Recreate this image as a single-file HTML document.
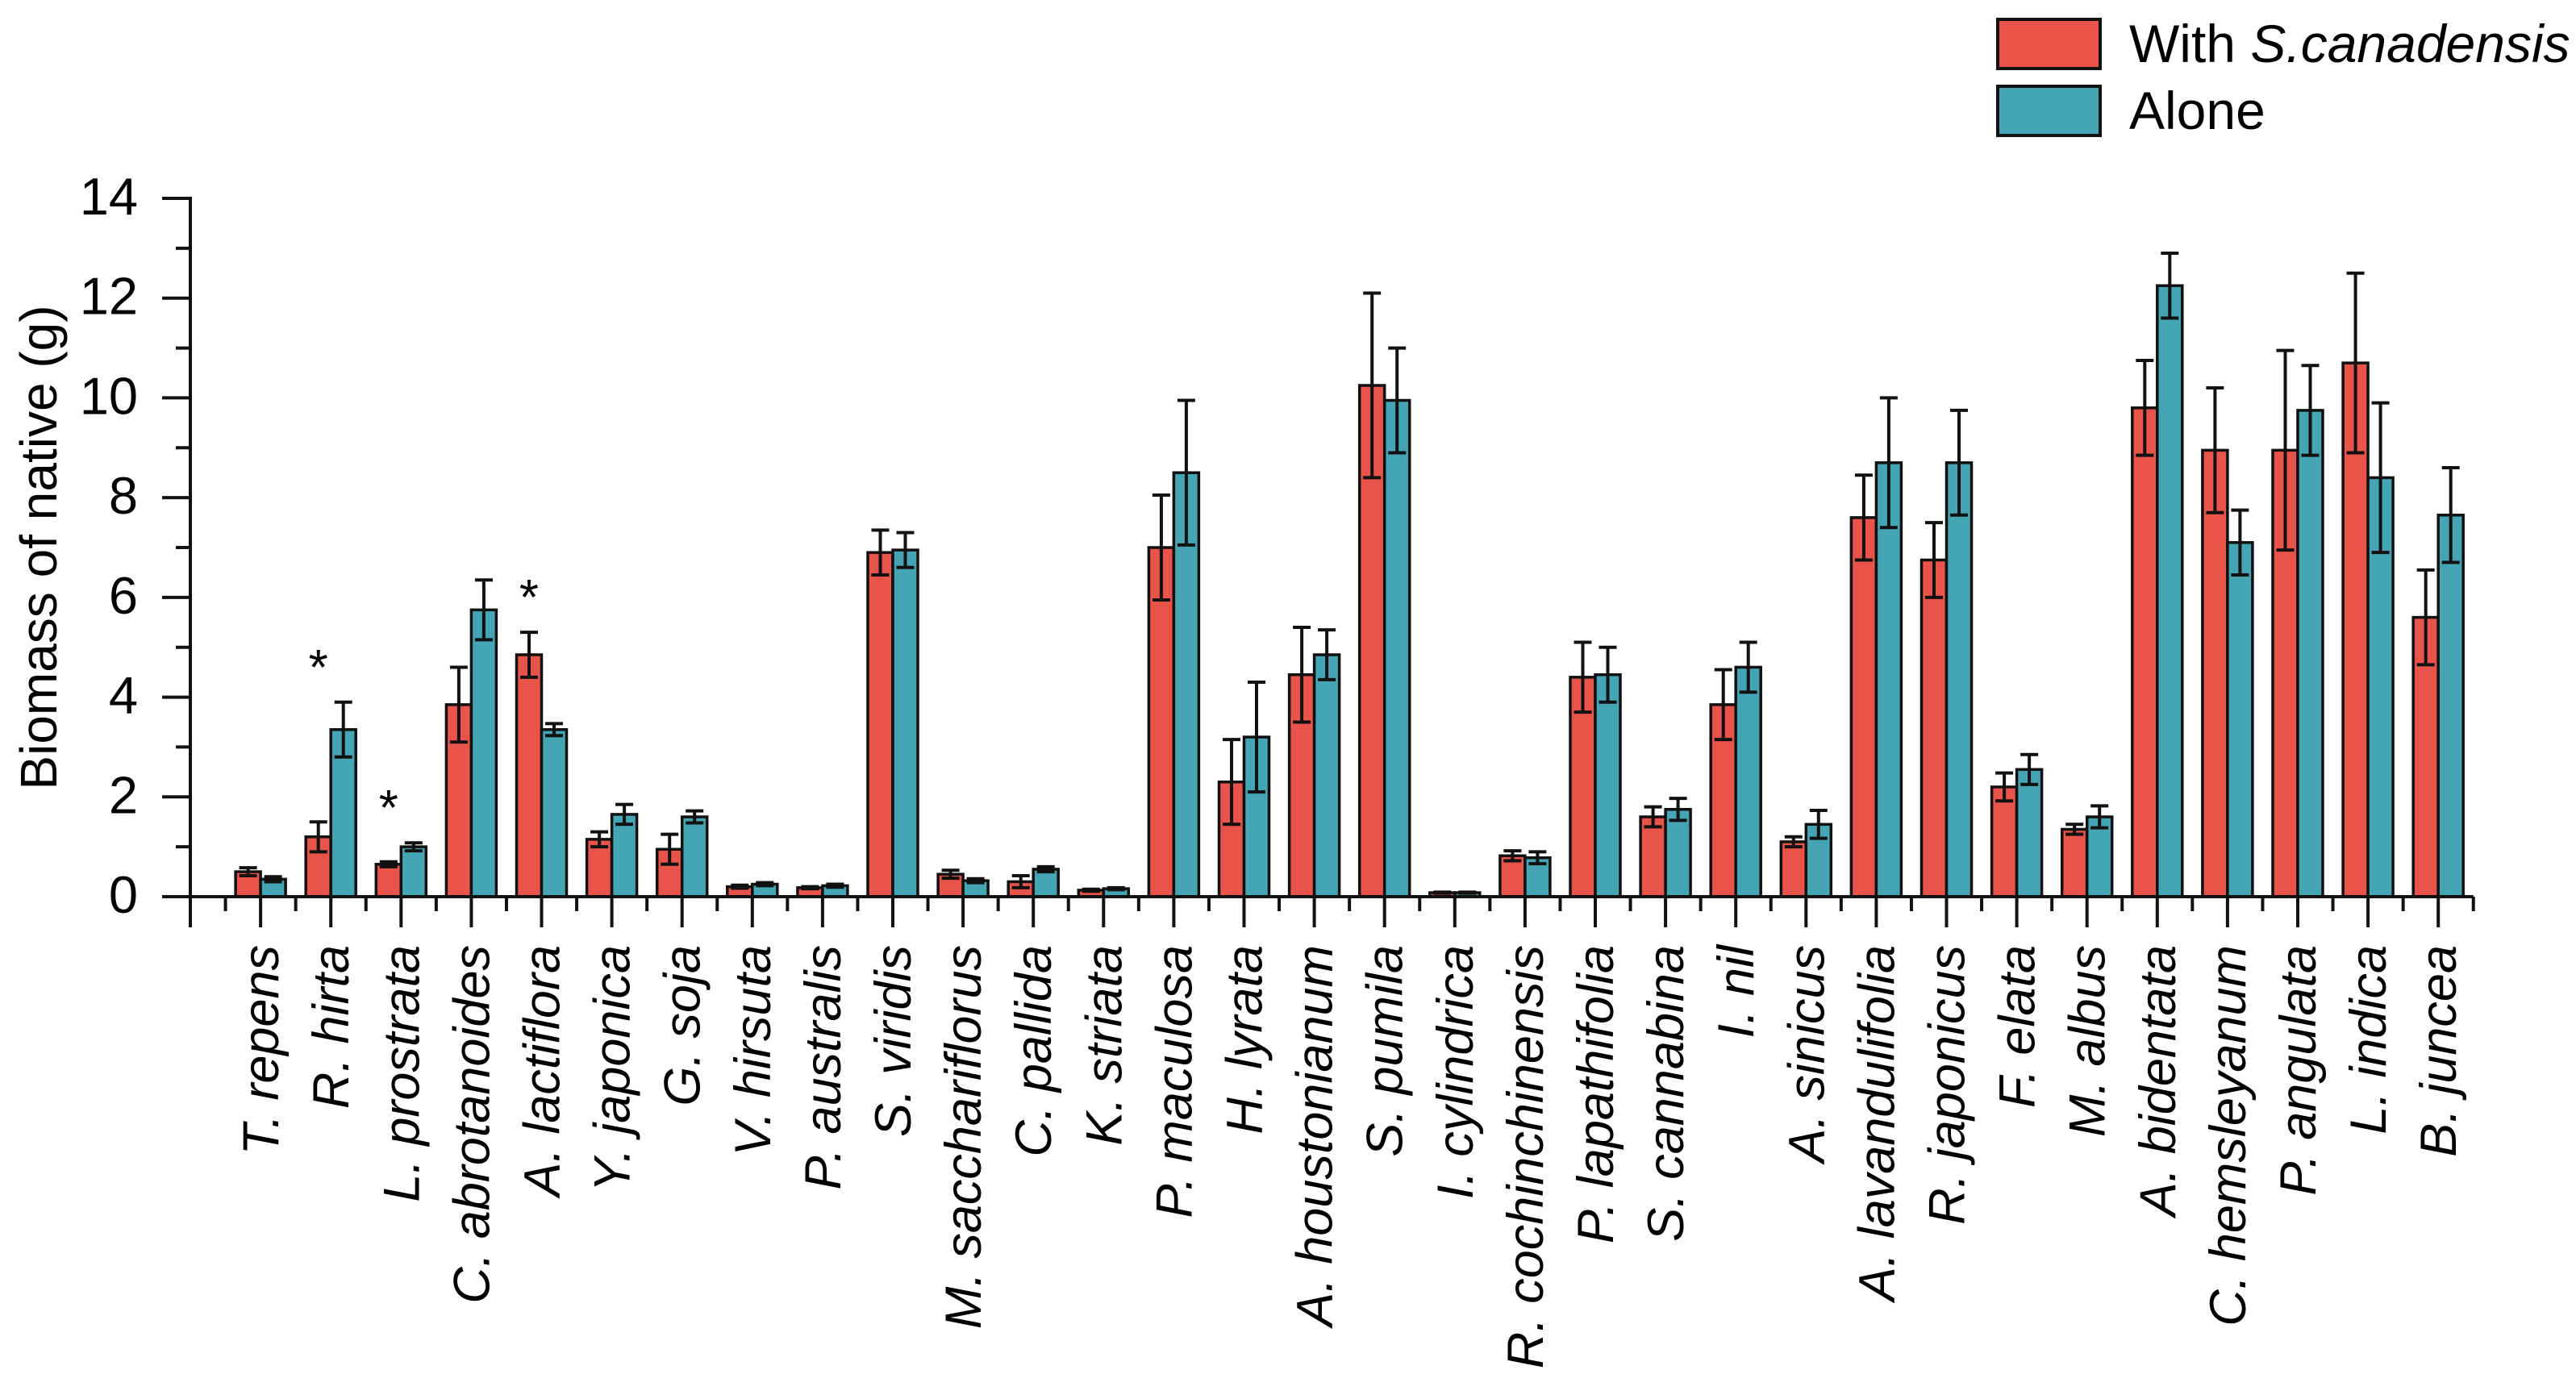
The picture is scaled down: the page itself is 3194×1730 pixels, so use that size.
<!DOCTYPE html>
<html><head><meta charset="utf-8"><style>
html,body{margin:0;padding:0;background:#fff;}
svg{display:block;font-family:"Liberation Sans",Arial,sans-serif;}
</style></head><body>
<svg id="chart" width="3194" height="1730" viewBox="0 0 3194 1730" xmlns="http://www.w3.org/2000/svg">
<g id="legend">
  <rect x="2477" y="24" width="127" height="61" fill="#E8534A" stroke="#111" stroke-width="4"/>
  <text x="2640" y="77" font-size="66">With <tspan font-style="italic">S.canadensis</tspan></text>
  <rect x="2477" y="107" width="127" height="61" fill="#45A5B5" stroke="#111" stroke-width="4"/>
  <text x="2640" y="160" font-size="66">Alone</text>
</g>
<g id="plot"></g>
</svg>
<script>
const categories = ["T. repens","R. hirta","L. prostrata","C. abrotanoides","A. lactiflora","Y. japonica","G. soja","V. hirsuta","P. australis","S. viridis","M. sacchariflorus","C. pallida","K. striata","P. maculosa","H. lyrata","A. houstonianum","S. pumila","I. cylindrica","R. cochinchinensis","P. lapathifolia","S. cannabina","I. nil","A. sinicus","A. lavandulifolia","R. japonicus","F. elata","M. albus","A. bidentata","C. hemsleyanum","P. angulata","L. indica","B. juncea"];
const withValues = [0.5,1.2,0.65,3.85,4.85,1.15,0.95,0.2,0.18,6.9,0.45,0.3,0.13,7.0,2.3,4.45,10.25,0.08,0.82,4.4,1.6,3.85,1.1,7.6,6.75,2.2,1.35,9.8,8.95,8.95,10.7,5.6];
const withErrors = [0.08,0.3,0.05,0.75,0.45,0.15,0.3,0.03,0.02,0.45,0.08,0.12,0.02,1.05,0.85,0.95,1.85,0.01,0.1,0.7,0.2,0.7,0.1,0.85,0.75,0.28,0.1,0.95,1.25,2.0,1.8,0.95];
const aloneValues = [0.35,3.35,1.0,5.75,3.35,1.65,1.6,0.25,0.22,6.95,0.32,0.55,0.16,8.5,3.2,4.85,9.95,0.08,0.78,4.45,1.75,4.6,1.45,8.7,8.7,2.55,1.6,12.25,7.1,9.75,8.4,7.65];
const aloneErrors = [0.05,0.55,0.08,0.6,0.12,0.2,0.12,0.03,0.03,0.35,0.04,0.05,0.02,1.45,1.1,0.5,1.05,0.01,0.12,0.55,0.22,0.5,0.28,1.3,1.05,0.3,0.22,0.65,0.65,0.9,1.5,0.95];
const significant = [false,true,true,false,true,false,false,false,false,false,false,false,false,false,false,false,false,false,false,false,false,false,false,false,false,false,false,false,false,false,false,false];
const yTicks = [0,2,4,6,8,10,12,14];

const NS = "http://www.w3.org/2000/svg";
const g = document.getElementById('plot');
const X0 = 236, STEP = 87.1, Y0 = 1112, YTOP = 246, YMAX = 14;
const BW = 31;
function xScale(i){ return X0 + (i+1)*STEP; }
function yScale(v){ return Y0 - v/YMAX*(Y0-YTOP); }
function mk(tag, attrs){ const e=document.createElementNS(NS,tag); for(const k in attrs) e.setAttribute(k,attrs[k]); g.appendChild(e); return e; }

function drawSeries(vals, errs, offset, color, name){
  vals.forEach((v,i)=>{
    const cx = xScale(i) + offset;
    const r = mk('rect',{x:cx-BW/2,y:yScale(v),width:BW,height:Y0-yScale(v),fill:color,stroke:'#111','stroke-width':3.5});
    
    
    const e = errs[i];
    const eg = document.createElementNS(NS,'path');
    const t=yScale(v+e), b=yScale(Math.max(0,v-e));
    eg.setAttribute('d',`M${cx},${t}V${b}M${cx-11},${t}H${cx+11}M${cx-11},${b}H${cx+11}`);
    eg.setAttribute('stroke','#111'); eg.setAttribute('stroke-width','4'); eg.setAttribute('fill','none');
    
    
    g.appendChild(eg);
  });
}
drawSeries(withValues, withErrors, -BW/2, '#E8534A', 'with');
drawSeries(aloneValues, aloneErrors, BW/2, '#45A5B5', 'alone');

significant.forEach((s,i)=>{
  if(!s) return;
  const cx = xScale(i) - BW/2;
  const top = Math.max(withValues[i]+withErrors[i], aloneValues[i]+aloneErrors[i]);
  const t = mk('text',{x:cx,y:yScale(top)-22,'font-size':62,'text-anchor':'middle'});
  t.textContent='*';
  
  
});

const xEnd = X0 + (categories.length+0.5)*STEP;
const ya = mk('line',{x1:X0,y1:YTOP-2,x2:X0,y2:Y0+38,stroke:'#111','stroke-width':4});
 
const xa = mk('line',{x1:X0-35,y1:Y0,x2:xEnd,y2:Y0,stroke:'#111','stroke-width':4});
 

yTicks.forEach(v=>{
  const y=yScale(v);
  const l=mk('line',{x1:X0-35,y1:y,x2:X0,y2:y,stroke:'#111','stroke-width':4});
   
  if(v<YMAX){
    const ym=yScale(v+1);
    const m=mk('line',{x1:X0-18,y1:ym,x2:X0,y2:ym,stroke:'#111','stroke-width':4});
     
  }
  const t=mk('text',{x:171,y:y+20,'font-size':65,'text-anchor':'end'});
  t.textContent=v;
   
});

categories.forEach((c,i)=>{
  const x=xScale(i);
  const l=mk('line',{x1:x,y1:Y0,x2:x,y2:Y0+38,stroke:'#111','stroke-width':4});
   
  const m=mk('line',{x1:x-STEP/2,y1:Y0,x2:x-STEP/2,y2:Y0+18,stroke:'#111','stroke-width':4});
   
  const t=mk('text',{x:0,y:0,'font-size':63,'font-style':'italic','text-anchor':'end',transform:`translate(${x+22},1172) rotate(-90)`});
  t.textContent=c;
   
});
{
  const x=xScale(categories.length-1)+STEP/2;
  const m=mk('line',{x1:x,y1:Y0,x2:x,y2:Y0+18,stroke:'#111','stroke-width':4});
   
}

const yt=mk('text',{x:0,y:0,'font-size':64,'text-anchor':'middle',transform:`translate(70,679) rotate(-90)`});
yt.textContent='Biomass of native (g)';
 
</script>
</body></html>
